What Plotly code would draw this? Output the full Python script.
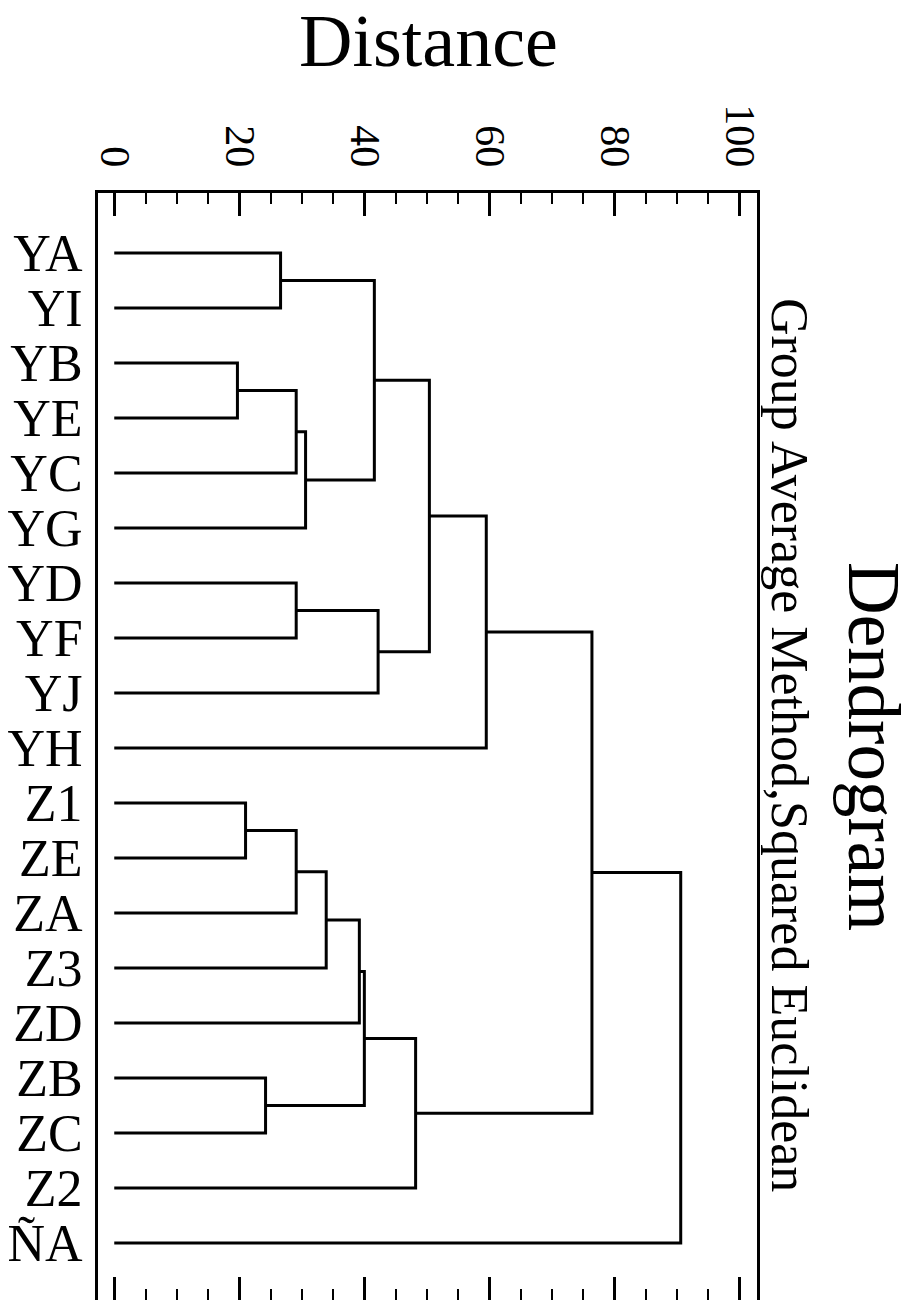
import plotly.graph_objects as go

# ---- data ----
labels = ["YA", "YI", "YB", "YE", "YC", "YG", "YD", "YF", "YJ", "YH",
          "Z1", "ZE", "ZA", "Z3", "ZD", "ZB", "ZC", "Z2", "ÑA"]
# merges in order: new cluster ids start at len(labels)
merge_left = [2, 0, 19, 21, 20, 6, 24, 23, 26, 10, 28, 29, 30, 15, 31, 33, 27, 35]
merge_right = [3, 1, 4, 5, 22, 7, 8, 25, 9, 11, 12, 13, 14, 16, 32, 17, 34, 18]
merge_height = [19.7, 26.6, 29.1, 30.6, 41.6, 29.1, 42.2, 50.4, 59.5,
                21.0, 29.1, 33.9, 39.2, 24.2, 40.0, 48.2, 76.4, 90.6]
dist_ticks = [0, 20, 40, 60, 80, 100]

title_text = "Dendrogram"
subtitle_text = "Group Average Method,Squared Euclidean"
axis_title = "Distance"

# ---- build dendrogram paths ----
pos = [float(i) for i in range(len(labels))]
hgt = [0.0] * len(labels)
xs, ys = [], []
for l, r, h in zip(merge_left, merge_right, merge_height):
    xs += [hgt[l], h, h, hgt[r], None]
    ys += [pos[l], pos[l], pos[r], pos[r], None]
    pos.append((pos[l] + pos[r]) / 2)
    hgt.append(h)

W, H = 916, 1300
ML, MR, MT, MB = 98, 159, 193, 0
XR = [-2.6, 102.8]
YR = [19.036, -1.091]

FONT = "Liberation Serif"

fig = go.Figure()
fig.add_trace(go.Scatter(x=xs, y=ys, mode="lines",
                         line=dict(color="black", width=3),
                         hoverinfo="skip", showlegend=False))
fig.add_trace(go.Scatter(x=[0], y=[0], xaxis="x2", mode="markers",
                         marker=dict(opacity=0), hoverinfo="skip",
                         showlegend=False))

tick_common = dict(
    range=XR, tickmode="array", tickvals=dist_ticks,
    ticks="inside", ticklen=23, tickwidth=2.5, tickcolor="black",
    minor=dict(ticks="inside", dtick=5, tick0=0, ticklen=11,
               tickwidth=2, tickcolor="black"),
    showgrid=False, zeroline=False,
)

fig.update_layout(
    width=W, height=H,
    margin=dict(l=ML, r=MR, t=MT, b=MB, pad=0),
    paper_bgcolor="white", plot_bgcolor="white",
    showlegend=False,
    xaxis=dict(
        side="top", anchor="y",
        ticktext=[str(v) for v in dist_ticks],
        tickangle=90,
        tickfont=dict(family=FONT, size=42, color="black"),
        ticklabelstandoff=8,
        showline=True, linecolor="black", linewidth=3,
        **tick_common,
    ),
    xaxis2=dict(
        side="bottom", anchor="y", overlaying="x",
        showticklabels=False, showline=False,
        **tick_common,
    ),
    yaxis=dict(
        range=YR, tickmode="array",
        tickvals=list(range(len(labels))), ticktext=labels,
        ticks="", tickfont=dict(family=FONT, size=52, color="black"),
        ticklabelstandoff=2,
        showline=True, mirror=True, linecolor="black", linewidth=3,
        showgrid=False, zeroline=False,
    ),
    annotations=[
        dict(text=axis_title, xref="paper", yref="paper",
             x=(428 - ML) / (W - ML - MR), y=(H - 41) / (H - MT - MB),
             showarrow=False, xanchor="center", yanchor="middle",
             font=dict(family=FONT, size=74, color="black")),
        dict(text=title_text, xref="paper", yref="paper",
             x=(874 - ML) / (W - ML - MR), y=(H - 746) / (H - MT - MB),
             showarrow=False, textangle=90, xanchor="center", yanchor="middle",
             font=dict(family=FONT, size=73, color="black")),
        dict(text=subtitle_text, xref="paper", yref="paper",
             x=(790 - ML) / (W - ML - MR), y=(H - 745) / (H - MT - MB),
             showarrow=False, textangle=90, xanchor="center", yanchor="middle",
             font=dict(family=FONT, size=52, color="black")),
    ],
)

fig.write_html(
    "out.html",
    config={"displayModeBar": False},
    post_script="document.body.style.margin='0';document.body.style.overflow='hidden';",
)
